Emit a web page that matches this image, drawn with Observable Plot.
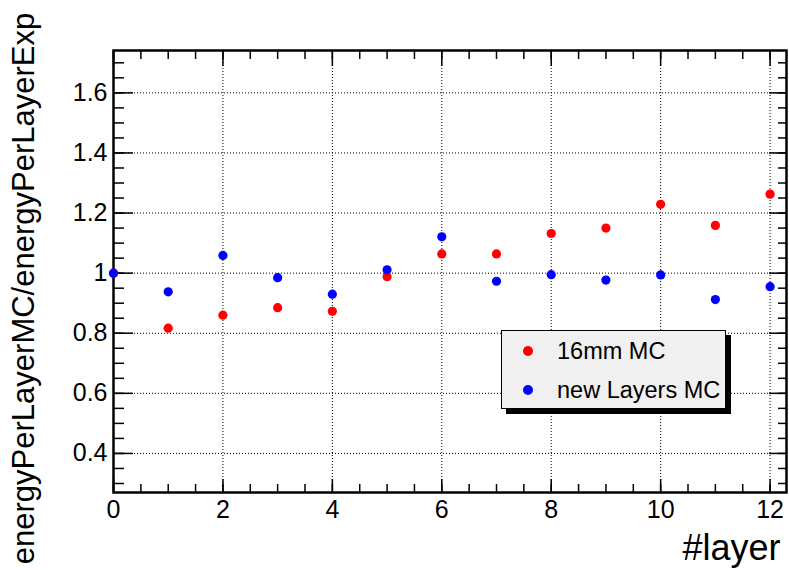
<!DOCTYPE html>
<html><head><meta charset="utf-8">
<script src="https://cdn.jsdelivr.net/npm/d3@7"></script>
<script src="https://cdn.jsdelivr.net/npm/@observablehq/plot@0.6"></script>
<style>
body{margin:0;background:#fff;}
#wrap{position:relative;width:789px;height:570px;font-family:"Liberation Sans",Arial,sans-serif;}
#legend{position:absolute;left:501px;top:330px;width:223px;height:77px;background:#f0f0f0;border:1px solid #000;box-shadow:5px 5px 0 #000;}
.row{position:absolute;left:0;height:24px;font-size:23.5px;line-height:24px;color:#000;}
.sw{position:absolute;left:21px;top:7px;width:10px;height:10px;border-radius:50%;}
.lab{position:absolute;left:55px;top:0;white-space:nowrap;}
</style></head>
<body><div id="wrap"></div>
<script>
const layers = [0,1,2,3,4,5,6,7,8,9,10,11,12];
const mc16 = [1.0,0.817,0.86,0.885,0.873,0.988,1.064,1.064,1.132,1.15,1.229,1.159,1.263];
const newLayers = [1.0,0.938,1.059,0.985,0.93,1.011,1.121,0.973,0.995,0.977,0.994,0.912,0.955];
const seriesNames = ["16mm MC","new Layers MC"];
const seriesColors = ["#ff0000","#0000ff"];
const xTicks = [0,2,4,6,8,10,12];
const xTickLabels = ["0","2","4","6","8","10","12"];
const yTicks = [0.4,0.6,0.8,1.0,1.2,1.4,1.6];
const yTickLabels = ["0.4","0.6","0.8","1","1.2","1.4","1.6"];
const xMinor = d3.range(0, 12.3, 0.5);
const yMinor = d3.range(0.3, 1.74, 0.05);
const yTitle = "energyPerLayerMC/energyPerLayerExp";
const xTitle = "#layer";

const data = [];
layers.forEach((l,i)=>{ data.push({layer:l, v:mc16[i], s:seriesNames[0]}); });
layers.forEach((l,i)=>{ data.push({layer:l, v:newLayers[i], s:seriesNames[1]}); });

const xl = new Map(xTicks.map((t,i)=>[t,xTickLabels[i]]));
const yl = new Map(yTicks.map((t,i)=>[t.toFixed(2),yTickLabels[i]]));
const tickStyle = {label:null, tickFormat:()=>"", stroke:"#000", strokeWidth:1.5};

const chart = Plot.plot({
  width: 789, height: 570,
  marginLeft: 113, marginRight: 3, marginTop: 50, marginBottom: 78,
  style: {fontFamily: '"Liberation Sans", Arial, sans-serif', background: "#fff", color: "#000"},
  x: {domain: [0, 12.3]},
  y: {domain: [0.27, 1.741]},
  color: {domain: seriesNames, range: seriesColors},
  marks: [
    Plot.gridX(xTicks.slice(1), {stroke:"#000", strokeOpacity:1, strokeWidth:1, strokeDasharray:"1,2"}),
    Plot.gridY(yTicks, {stroke:"#000", strokeOpacity:1, strokeWidth:1, strokeDasharray:"1,2"}),
    Plot.axisX(xTicks, {anchor:"bottom", tickSize:-13, ...tickStyle}),
    Plot.axisX(xMinor, {anchor:"bottom", tickSize:-8, ...tickStyle}),
    Plot.axisX(xTicks, {anchor:"top", tickSize:-15, ...tickStyle}),
    Plot.axisX(xMinor, {anchor:"top", tickSize:-8, ...tickStyle}),
    Plot.axisY(yTicks, {anchor:"left", tickSize:-20, ...tickStyle}),
    Plot.axisY(yMinor, {anchor:"left", tickSize:-11, ...tickStyle}),
    Plot.axisY(yTicks, {anchor:"right", tickSize:-18, ...tickStyle}),
    Plot.axisY(yMinor, {anchor:"right", tickSize:-9, ...tickStyle}),
    Plot.axisX(xTicks, {anchor:"bottom", tickSize:0, tickPadding:8, fontSize:25, label:null, tickFormat:d=>xl.get(d)}),
    Plot.axisY(yTicks, {anchor:"left", tickSize:0, tickPadding:6, fontSize:25, label:null, tickFormat:d=>yl.get(d.toFixed(2))}),
    Plot.frame({stroke:"#000", strokeWidth:2.5}),
    Plot.dot(data, {x:"layer", y:"v", fill:"s", r:4.6, stroke:null}),
    Plot.text([yTitle], {frameAnchor:"left", textAnchor:"middle", rotate:-90, dx:-89, dy:17, fontSize:31, fill:"#000"}),
    Plot.text([xTitle], {frameAnchor:"bottom-right", textAnchor:"end", lineAnchor:"bottom", dx:-6, dy:67, fontSize:36, fill:"#000"})
  ]
});
const wrap = document.getElementById("wrap");
wrap.appendChild(chart);
const leg = document.createElement("div");
leg.id = "legend";
seriesNames.forEach((n,i)=>{
  const row = document.createElement("div");
  row.className = "row";
  row.style.top = (8 + i*39) + "px";
  row.innerHTML = `<span class="sw" style="background:${seriesColors[i]}"></span><span class="lab">${n}</span>`;
  leg.appendChild(row);
});
wrap.appendChild(leg);
</script>
</body></html>
